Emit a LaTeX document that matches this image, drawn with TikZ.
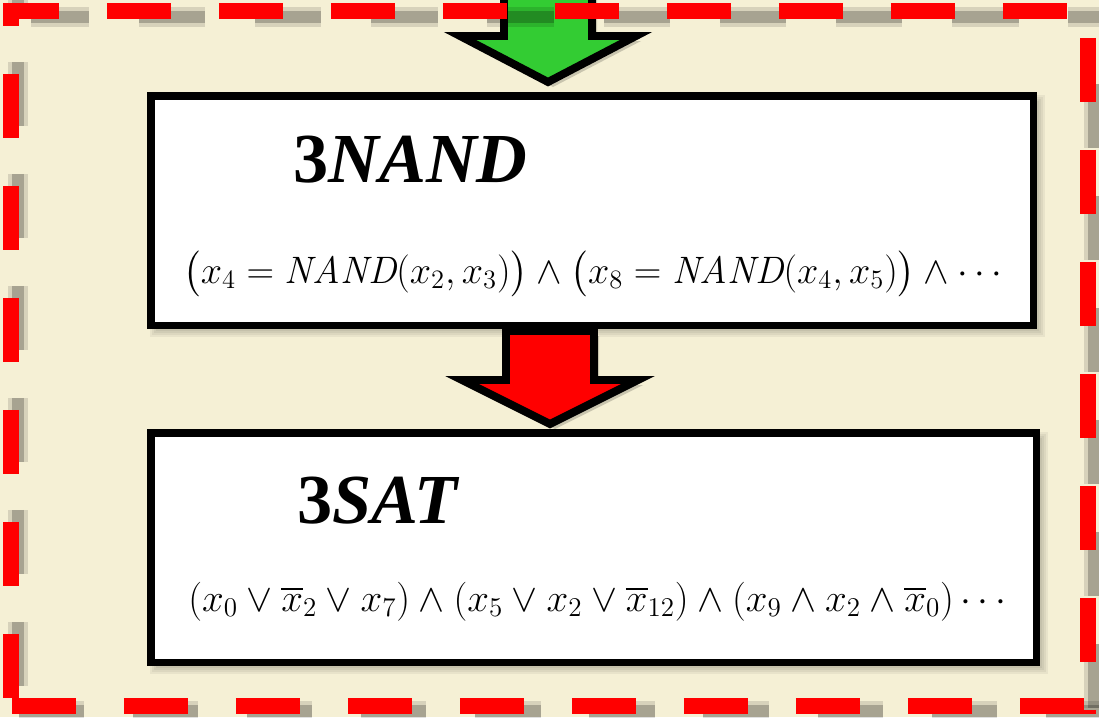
\documentclass[tikz,border=0pt]{standalone}
\usepackage{fontspec}
\usepackage{amsmath}
\usepackage{graphicx}
\newfontfamily\titlefont{Liberation Serif}
\definecolor{bgc}{RGB}{245,240,213}
\definecolor{arrgreen}{RGB}{51,204,51}
\definecolor{borderred}{RGB}{255,0,0}
\newcommand{\softshadow}[4]{%
  \foreach \ee in {0,2,4,6}{\fill[black, opacity=0.05] (#1+5-\ee,#2+5-\ee) rectangle (#3+5+\ee,#4+5+\ee);}}
\newcommand{\blockarrow}[5]{% cx, top, head y, tip y, colour
  \fill[black, opacity=0.18] (#1-44+5,#2+5) -- (#1-44+5,#3+5) -- (#1-88+5,#3+5) -- (#1+5,#4+5) -- (#1+88+5,#3+5) -- (#1+44+5,#3+5) -- (#1+44+5,#2+5) -- cycle;
  \draw[line width=4.5pt, line join=miter, fill=#5] (#1-44,#2) -- (#1-44,#3) -- (#1-88,#3) -- (#1,#4) -- (#1+88,#3) -- (#1+44,#3) -- (#1+44,#2) -- cycle;}
\tikzset{
  box/.style={draw=black, line width=4pt, fill=white, inner sep=0pt, outer sep=0pt, anchor=north west, minimum height=4.6cm},
  title/.style={anchor=base west, inner sep=0pt, font=\titlefont\bfseries\fontsize{40}{40}\selectfont},
  formula/.style={anchor=base west, inner sep=0pt, font=\fontsize{20.74}{24}\selectfont},
  redline/.style={draw=borderred, line width=9.07pt, dash pattern=on 1.28cm off 0.96cm},
  shadowline/.style={draw=black, opacity=#1},
}
\begin{document}
\begin{tikzpicture}[x=0.02cm,y=-0.02cm]
\useasboundingbox (0,0) rectangle (1099,717);
\fill[bgc] (0,0) rectangle (1099,717);
% box shadows
\softshadow{151}{96}{1034}{326}
\softshadow{151}{433}{1037}{663}
% boxes
\node[box, minimum width=17.66cm] (b1) at (151,96) {};
\node[box, minimum width=17.72cm] (b2) at (151,433) {};
% texts
\node[title] (t1) at (293,182) {3\textit{NAND}};
\node[formula] (f1) at (183,283) {\scalebox{1.049}{$\bigl(x_4 = \mathit{NAND}(x_2,x_3)\bigr) \land \bigl(x_8 = \mathit{NAND}(x_4,x_5)\bigr) \land \cdots$}};
\node[title] (t2) at (297,523) {3\textit{SAT}};
\node[formula] (f2) at (188,611) {\scalebox{1.07}{$(x_0 \lor \overline{x}_2 \lor x_7) \land (x_5 \lor x_2 \lor \overline{x}_{12}) \land (x_9 \land x_2 \land \overline{x}_0) \cdots$}};
% arrows
\blockarrow{548}{-20}{36}{82}{arrgreen}
\blockarrow{550}{331}{380}{424}{borderred}
% dashed frame shadow
\foreach \w/\o in {20/0.12,12/0.22}{
  \draw[shadowline=\o, line width=\w*0.567pt, dash pattern=on 1.328cm off 0.996cm, dash phase=0.166cm] (31,17) -- (1160,17);
  \draw[shadowline=\o, line width=\w*0.567pt, dash pattern=on 1.28cm off 0.96cm, dash phase=1.54cm] (1094,49) -- (1094,760);
  \draw[shadowline=\o, line width=\w*0.567pt, dash pattern=on 1.304cm off 0.978cm] (19,711) -- (1130,711);
  \draw[shadowline=\o, line width=\w*0.567pt, dash pattern=on 1.28cm off 0.96cm, dash phase=0.82cm] (18,-9) -- (18,702);
}
% dashed frame
\draw[redline, dash phase=0.16cm] (3,11) -- (1096,11);
\draw[redline, dash phase=0.82cm] (11,3) -- (11,714);
\draw[redline, dash phase=1.54cm] (1088,3) -- (1088,714);
\draw[redline] (12,706) -- (1096,706);
\end{tikzpicture}
\end{document}
